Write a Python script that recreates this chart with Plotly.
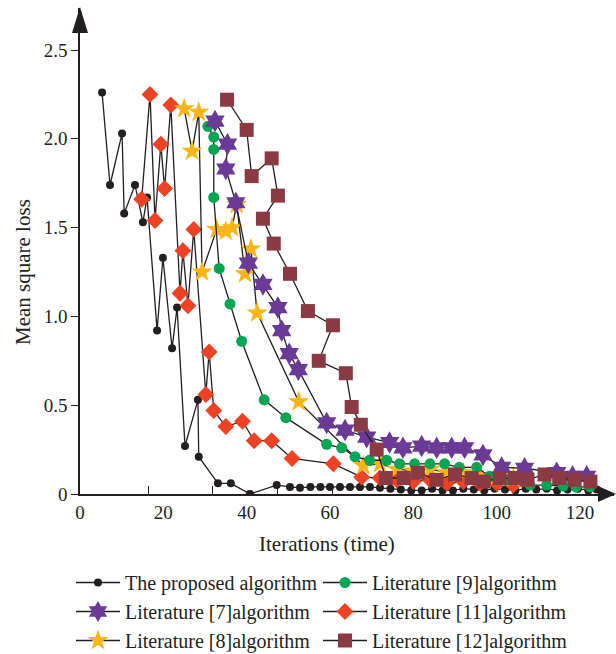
import plotly.graph_objects as go

# ---- data ----
prop_x = [5.3, 7.2, 10.1, 10.6, 13.2, 15.1, 16.1, 18.5, 19.9, 22.1, 23.3, 25.2, 28.3, 28.5,
          33.1, 36.2, 40.8, 47.2, 50.4, 52.8, 55.3, 57.7, 60.0, 62.4, 64.8, 67.2, 69.6,
          72.0, 74.5, 77.0, 79.5, 82.0, 84.5, 87.0, 89.5, 92.0, 94.5, 97.0, 99.5, 102.0,
          104.5, 107.0, 109.5, 112.0, 114.5, 117.0, 119.5, 122.0, 124.0]
prop_y = [2.26, 1.74, 2.03, 1.58, 1.74, 1.53, 1.67, 0.92, 1.33, 0.82, 1.05, 0.27, 0.53, 0.21,
          0.06, 0.06, 0.0, 0.05, 0.04, 0.035, 0.04, 0.04, 0.04, 0.04, 0.04, 0.04, 0.04,
          0.035, 0.03, 0.025, 0.02, 0.02, 0.03, 0.02, 0.02, 0.03, 0.025, 0.02, 0.03, 0.025,
          0.02, 0.03, 0.025, 0.03, 0.02, 0.025, 0.03, 0.02, 0.025]

lit7_x = [32.4, 35.4, 35.0, 37.4, 40.4, 43.9, 47.5, 48.4, 50.2, 52.4, 59.2, 63.6, 68.8, 74.3,
          77.5, 82.0, 85.6, 89.2, 92.3, 96.7, 101.2, 106.7, 114.4, 118.2, 121.6]
lit7_y = [2.10, 1.97, 1.83, 1.64, 1.30, 1.18, 1.05, 0.92, 0.79, 0.70, 0.40, 0.36, 0.32, 0.29,
          0.26, 0.27, 0.26, 0.26, 0.26, 0.22, 0.15, 0.145, 0.12, 0.10, 0.10]

lit8_x = [25.0, 26.9, 28.5, 29.3, 32.8, 35.0, 36.5, 37.6, 39.6, 41.0, 42.5, 52.5,
          68.0, 72.0, 76.0, 80.0, 84.0, 88.0, 92.0, 96.0, 100.0, 104.0]
lit8_y = [2.17, 1.93, 2.15, 1.25, 1.49, 1.48, 1.50, 1.63, 1.24, 1.38, 1.02, 0.52,
          0.16, 0.17, 0.14, 0.13, 0.14, 0.12, 0.12, 0.10, 0.10, 0.09]

lit9_x = [30.7, 32.1, 32.1, 32.1, 33.4, 36.0, 38.8, 44.2, 49.4, 59.2, 62.8, 66.0, 69.5, 73.6,
          76.7, 80.3, 84.0, 87.5, 91.0, 95.2, 98.3, 102.4, 108.0, 112.0, 116.0, 119.0, 122.4]
lit9_y = [2.07, 2.01, 1.94, 1.67, 1.27, 1.07, 0.86, 0.53, 0.43, 0.28, 0.26, 0.21, 0.19, 0.19,
          0.17, 0.17, 0.17, 0.17, 0.15, 0.15, 0.10, 0.08, 0.05, 0.05, 0.045, 0.04, 0.04]

lit11_x = [14.8, 16.8, 18.0, 19.4, 20.3, 21.8, 24.0, 24.7, 25.9, 27.3, 30.2, 31.0, 32.1, 35.0,
           39.0, 41.8, 46.0, 50.9, 60.8, 67.6, 72.0, 76.0, 80.0, 84.0, 88.0, 92.0, 96.0,
           100.0, 104.0]
lit11_y = [1.66, 2.25, 1.54, 1.97, 1.72, 2.19, 1.13, 1.37, 1.06, 1.49, 0.56, 0.80, 0.47, 0.38,
           0.41, 0.30, 0.30, 0.20, 0.17, 0.095, 0.09, 0.08, 0.07, 0.08, 0.06, 0.07, 0.06,
           0.06, 0.05]

lit12_x = [35.3, 40.0, 41.2, 46.0, 47.5, 43.9, 46.5, 50.4, 54.7, 60.7, 57.3, 63.8, 65.2, 67.4,
           71.2, 73.4, 77.7, 81.1, 85.6, 90.0, 94.0, 96.9, 100.7, 104.3, 107.4, 111.5, 115.0,
           118.7, 122.5]
lit12_y = [2.22, 2.05, 1.79, 1.89, 1.68, 1.55, 1.41, 1.24, 1.03, 0.95, 0.75, 0.68, 0.49, 0.39,
           0.25, 0.09, 0.09, 0.12, 0.08, 0.11, 0.09, 0.07, 0.09, 0.09, 0.08, 0.11, 0.09,
           0.08, 0.07]

names = ["The proposed algorithm", "Literature [7]algorithm", "Literature [8]algorithm",
         "Literature [9]algorithm", "Literature [11]algorithm", "Literature [12]algorithm"]

y_ticks = [0, 0.5, 1.0, 1.5, 2.0, 2.5]
y_tick_text = ["0", "0.5", "1.0", "1.5", "2.0", "2.5"]
x_ticks = [0, 20, 40, 60, 80, 100, 120]
x_minor_ticks = [16.4, 31.9, 47.3, 60.5, 79.2]

LINE = "#231f20"
FONT = "Liberation Serif"

# plot-area geometry (pixels)
L, R, T, B = 80, 2, 8, 160
W, H = 616, 654
PW, PH = W - L - R, H - T - B


def px_x(p):
    return (p - L) / PW


def px_y(p):
    return (H - B - p) / PH


fig = go.Figure()


def add(x, y, name, symbol, size, color, rank, legend):
    fig.add_trace(go.Scatter(
        x=x, y=y, name=name, mode="lines+markers",
        line=dict(color=LINE, width=1.3),
        marker=dict(symbol=symbol, size=size, color=color, line=dict(width=0)),
        legendrank=rank, legend=legend,
    ))


# drawing order: black, red, yellow, green, purple, maroon
add(prop_x, prop_y, names[0], "circle", 8, "#231f20", 1, "legend")
add(lit11_x, lit11_y, names[4], "diamond", 13, "#ef4123", 5, "legend2")
add(lit8_x, lit8_y, names[2], "star", 16, "#fdb515", 3, "legend")
add(lit9_x, lit9_y, names[3], "circle", 11, "#00a651", 4, "legend2")
add(lit7_x, lit7_y, names[1], "hexagram", 17, "#6b3a96", 2, "legend")
add(lit12_x, lit12_y, names[5], "square", 14, "#8b3a44", 6, "legend2")

# invisible trace to carry the inner x ticks axis
fig.add_trace(go.Scatter(x=[None], y=[None], xaxis="x2", showlegend=False, hoverinfo="skip"))

xmax = PW / (500 / 120)
ymax = PH / (444 / 2.5)

legend_common = dict(orientation="v", xanchor="left", yanchor="top", itemwidth=44,
                     font=dict(family=FONT, size=20, color=LINE), tracegroupgap=0,
                     traceorder="normal", borderwidth=0, bgcolor="rgba(0,0,0,0)")

fig.update_layout(
    width=W, height=H,
    margin=dict(l=L, r=R, t=T, b=B, autoexpand=False),
    paper_bgcolor="white", plot_bgcolor="white",
    font=dict(family=FONT, color=LINE, size=19),
    showlegend=True,
    legend=dict(x=px_x(71), y=px_y(563), **legend_common),
    legend2=dict(x=px_x(318), y=px_y(563), **legend_common),
    xaxis=dict(range=[0, xmax], showgrid=False, zeroline=False, showline=True,
               linecolor=LINE, linewidth=1.5, tickmode="array", tickvals=x_ticks,
               ticks="", ticklabelstandoff=0, automargin=False,
               tickfont=dict(size=19, family=FONT)),
    xaxis2=dict(range=[0, xmax], overlaying="x", side="bottom", anchor="y",
                showgrid=False, zeroline=False, showline=False, tickmode="array",
                tickvals=x_minor_ticks, ticks="inside", ticklen=8, tickwidth=1.3,
                tickcolor=LINE, showticklabels=False, automargin=False),
    yaxis=dict(range=[0, ymax], showgrid=False, zeroline=False, showline=True,
               linecolor=LINE, linewidth=1.5, tickmode="array", tickvals=y_ticks,
               ticktext=y_tick_text, ticks="outside", ticklen=7, tickwidth=1.3,
               tickcolor=LINE, automargin=False, tickfont=dict(size=19, family=FONT)),
    annotations=[
        dict(text="Iterations (time)", xref="paper", yref="paper", x=px_x(327),
             y=px_y(544), xanchor="center", yanchor="middle", showarrow=False,
             font=dict(size=21, family=FONT, color=LINE)),
        dict(text="Mean square loss", xref="paper", yref="paper", x=px_x(23),
             y=px_y(272), xanchor="center", yanchor="middle", showarrow=False,
             textangle=-90, font=dict(size=21, family=FONT, color=LINE)),
    ],
    shapes=[
        # y-axis arrow head
        dict(type="path", xref="paper", yref="paper", xsizemode="pixel", ysizemode="pixel",
             xanchor=px_x(80), yanchor=px_y(33),
             path="M -8,0 L 8,0 L 0,26 Z", fillcolor=LINE, line=dict(width=0)),
        # x-axis arrow head
        dict(type="path", xref="paper", yref="paper", xsizemode="pixel", ysizemode="pixel",
             xanchor=px_x(598), yanchor=px_y(494),
             path="M 0,-8 L 0,8 L 18,0 Z", fillcolor=LINE, line=dict(width=0)),
    ],
)

fig.write_html("out.html", config={"displayModeBar": False},
               post_script="document.body.style.margin='0px';")
